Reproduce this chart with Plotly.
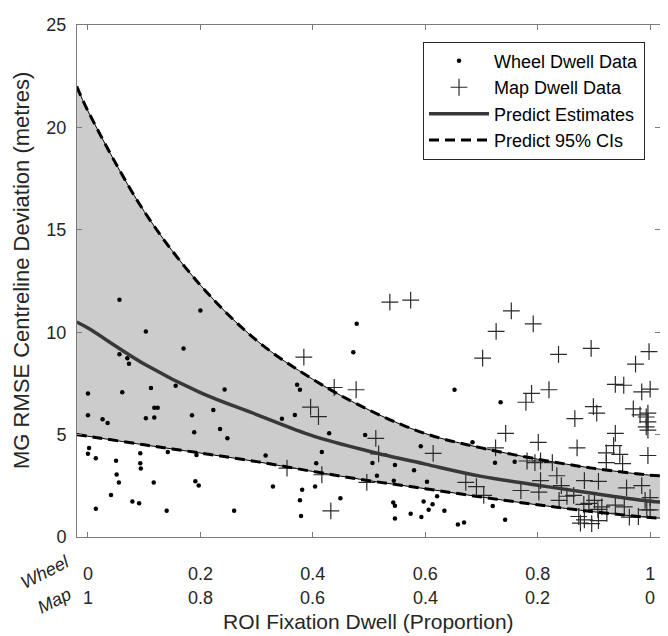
import plotly.graph_objects as go

# ---------------- data ----------------
wheel_x = [0.056, 0.200, 0.103, 0.170, 0.056, 0.070, 0.073, 0.000, 0.061, 0.112, 0.156, 0.243,
           0.118, 0.124, 0.223, 0.000, 0.185, 0.026, 0.035, 0.103, 0.118, 0.189, 0.235, 0.248,
           0.316, 0.002, 0.000, 0.014, 0.050, 0.093, 0.093, 0.094, 0.142, 0.193, 0.051, 0.055,
           0.117, 0.191, 0.197, 0.329, 0.041, 0.079, 0.091, 0.014, 0.140, 0.260,
           0.478, 0.472, 0.652, 0.372, 0.377, 0.368, 0.345, 0.429, 0.493, 0.416, 0.592, 0.406,
           0.506, 0.546, 0.580, 0.514, 0.544, 0.603, 0.381, 0.404, 0.449, 0.377, 0.543, 0.546,
           0.597, 0.613, 0.606, 0.621, 0.634, 0.379, 0.546, 0.574, 0.593, 0.658, 0.669, 0.734,
           0.684, 0.724, 0.759, 0.720, 0.742]
wheel_y = [11.59, 11.06, 10.04, 9.20, 8.92, 8.73, 8.46, 7.01, 7.07, 7.28, 7.38, 7.20,
           6.31, 6.31, 6.20, 5.95, 5.95, 5.75, 5.57, 5.80, 5.83, 5.11, 5.27, 4.82,
           3.98, 4.35, 4.06, 3.84, 3.72, 4.09, 3.60, 3.34, 4.15, 4.00, 3.05, 2.66,
           2.66, 2.72, 2.51, 2.46, 2.05, 1.73, 1.65, 1.38, 1.28, 1.28,
           10.41, 9.02, 7.19, 7.43, 7.19, 5.96, 5.78, 5.06, 4.98, 4.15, 4.43, 3.60,
           3.61, 3.52, 3.26, 2.99, 2.75, 2.70, 2.31, 2.46, 1.89, 1.79, 1.68, 1.52,
           1.73, 1.60, 1.33, 1.99, 1.28, 1.03, 0.90, 1.14, 0.98, 0.61, 0.71, 6.58,
           4.63, 3.63, 3.67, 1.51, 0.84]

map_x = [0.537, 0.574, 0.384, 0.438, 0.477, 0.396, 0.410, 0.512, 0.517, 0.614, 0.354, 0.416,
         0.496, 0.672, 0.432,
         0.753, 0.726, 0.792, 0.702, 0.837, 0.895, 0.998, 0.974, 0.789, 0.779, 0.820, 0.938,
         0.953, 0.985, 1.000, 0.899, 0.905, 0.970, 0.996, 0.866, 0.982, 0.993, 0.996, 0.993,
         0.996,
         0.743, 0.801, 0.870, 0.938, 0.935, 0.922, 0.946, 0.951, 0.922, 0.996, 0.725, 0.781,
         0.795, 0.805, 0.826, 0.834, 0.805, 0.883, 0.908, 0.842, 0.958, 0.985, 0.691, 0.704,
         0.770, 0.802, 0.852, 0.864, 0.838, 0.891, 0.901, 0.914, 0.907, 0.938, 0.954, 0.882,
         0.991, 1.000, 0.994, 1.000, 0.873, 0.883, 0.876, 0.896, 0.908, 0.963, 0.979, 0.923]
map_y = [11.47, 11.57, 8.78, 7.30, 7.19, 6.34, 5.88, 4.82, 4.06, 4.08, 3.36, 3.04,
         2.67, 2.67, 1.28,
         11.04, 10.04, 10.41, 8.73, 8.92, 9.21, 9.05, 8.44, 7.01, 6.58, 7.19, 7.45,
         7.41, 7.09, 7.22, 6.37, 6.05, 6.26, 6.05, 5.78, 5.96, 5.86, 5.62, 5.38,
         5.22,
         5.06, 4.62, 4.35, 5.06, 4.46, 4.11, 4.03, 3.58, 3.63, 3.98, 4.35, 3.71,
         3.63, 3.71, 3.63, 2.99, 2.75, 2.75, 2.72, 2.51, 2.40, 2.51, 2.46, 2.03,
         2.27, 2.19, 1.99, 2.03, 1.79, 1.64, 1.79, 1.47, 1.35, 1.56, 1.47, 1.59,
         1.79, 1.92, 1.32, 1.32, 1.00, 0.84, 0.68, 0.65, 0.80, 0.97, 1.00, 1.16]

curve_x = [-0.02, 0.0, 0.1, 0.2, 0.3, 0.4, 0.5, 0.6, 0.7, 0.8, 0.9, 1.0, 1.02]
estimate_y = [10.5, 10.2, 8.45, 7.05, 5.98, 4.94, 4.19, 3.56, 2.96, 2.53, 2.12, 1.74, 1.70]
upper_ci_y = [22.0, 20.8, 15.9, 12.3, 9.6, 7.7, 6.2, 5.05, 4.35, 3.8, 3.35, 3.02, 2.99]
lower_ci_y = [5.0, 4.92, 4.5, 4.1, 3.68, 3.2, 2.75, 2.36, 1.95, 1.57, 1.23, 0.95, 0.92]

wheel_ticks = [0, 0.2, 0.4, 0.6, 0.8, 1]
wheel_tick_text = ["0", "0.2", "0.4", "0.6", "0.8", "1"]
map_tick_text = ["1", "0.8", "0.6", "0.4", "0.2", "0"]
y_ticks = [0, 5, 10, 15, 20, 25]

FONT = "Liberation Sans, Arial, Helvetica, sans-serif"
TXT = "#262626"
AX = "#7a7a7a"

# page has an 8px body margin; figure is sized so the plot lands where the reference has it
W, H = 660, 628
L, R, T, B = 69, 7, 7, 98.5
PAGE_OFF = 8
plot_h = H - T - B


def px2paper(px):
    return (px - PAGE_OFF - L) / (W - L - R)


def py2paper(py):
    return (H - B - (py - PAGE_OFF)) / plot_h


fig = go.Figure()

# CI band fill
fig.add_trace(go.Scatter(x=curve_x, y=lower_ci_y, mode="lines",
                         line=dict(color="black", width=1, shape="spline"),
                         showlegend=False, hoverinfo="skip"))
fig.add_trace(go.Scatter(x=curve_x, y=upper_ci_y, mode="lines",
                         line=dict(color="black", width=1, shape="spline"),
                         fill="tonexty", fillcolor="rgb(204,204,204)",
                         showlegend=False, hoverinfo="skip"))

# data
fig.add_trace(go.Scatter(x=wheel_x, y=wheel_y, mode="markers", name="Wheel Dwell Data",
                         marker=dict(symbol="circle", size=4.5, color="black"), legendrank=1))
fig.add_trace(go.Scatter(x=map_x, y=map_y, mode="markers", name="Map Dwell Data",
                         marker=dict(symbol="cross-thin", size=12, color="#2a2a2a",
                                     line=dict(width=1.2, color="#2a2a2a")), legendrank=2))

# estimate
fig.add_trace(go.Scatter(x=curve_x, y=estimate_y, mode="lines", name="Predict Estimates",
                         line=dict(color="#383838", width=3.5, shape="spline"), legendrank=3))
# CIs dashed
fig.add_trace(go.Scatter(x=curve_x, y=upper_ci_y, mode="lines", name="Predict 95% CIs",
                         line=dict(color="black", width=3, dash="10px,6px", shape="spline"),
                         legendgroup="ci", legendrank=4))
fig.add_trace(go.Scatter(x=curve_x, y=lower_ci_y, mode="lines", name="Predict 95% CIs",
                         line=dict(color="black", width=3, dash="10px,6px", shape="spline"),
                         legendgroup="ci", showlegend=False))

ann = []
for xv, t in zip(wheel_ticks, map_tick_text):
    ann.append(dict(x=xv, y=py2paper(600), xref="x", yref="paper", text=t, showarrow=False,
                    xanchor="center", yanchor="middle",
                    font=dict(family=FONT, size=18, color=TXT)))
ann.append(dict(x=px2paper(45), y=py2paper(573), xref="paper", yref="paper", text="<i>Wheel</i>",
                showarrow=False, textangle=-27, xanchor="center", yanchor="middle",
                font=dict(family=FONT, size=18, color=TXT)))
ann.append(dict(x=px2paper(54), y=py2paper(603), xref="paper", yref="paper", text="<i>Map</i>",
                showarrow=False, textangle=-27, xanchor="center", yanchor="middle",
                font=dict(family=FONT, size=18, color=TXT)))
ann.append(dict(x=0.5, y=py2paper(624), xref="paper", yref="paper",
                text="ROI Fixation Dwell (Proportion)",
                showarrow=False, xanchor="center", yanchor="middle",
                font=dict(family=FONT, size=21, color=TXT)))
ann.append(dict(x=px2paper(22), y=py2paper(266), xref="paper", yref="paper",
                text="MG RMSE Centreline Deviation (metres)", textangle=-90,
                showarrow=False, xanchor="center", yanchor="middle",
                font=dict(family=FONT, size=22, color=TXT)))

fig.update_layout(
    width=W, height=H,
    margin=dict(l=L, r=R, t=T, b=B, pad=0),
    paper_bgcolor="white", plot_bgcolor="white",
    font=dict(family=FONT, size=18, color=TXT),
    annotations=ann,
    xaxis=dict(range=[-0.0195, 1.0175], tickvals=wheel_ticks, ticktext=wheel_tick_text,
               ticks="inside", ticklen=5, tickcolor=AX, showline=True, linecolor=AX, linewidth=1,
               mirror="ticks", showgrid=False, zeroline=False, ticklabelstandoff=20,
               ticklabeloverflow="allow",
               tickfont=dict(family=FONT, size=18, color=TXT)),
    yaxis=dict(range=[0, 25], tickvals=y_ticks, ticks="inside", ticklen=5, tickcolor=AX,
               showline=True, linecolor=AX, linewidth=1, mirror="ticks", showgrid=False,
               zeroline=False, ticklabelstandoff=6, ticklabeloverflow="allow",
               tickfont=dict(family=FONT, size=18, color=TXT)),
    legend=dict(x=px2paper(646), y=py2paper(32), xanchor="right", yanchor="top", bgcolor="white",
                bordercolor="#262626", borderwidth=1, itemwidth=60,
                font=dict(family=FONT, size=18, color="black"), tracegroupgap=0),
    showlegend=True,
)

fig.write_html("out.html")
